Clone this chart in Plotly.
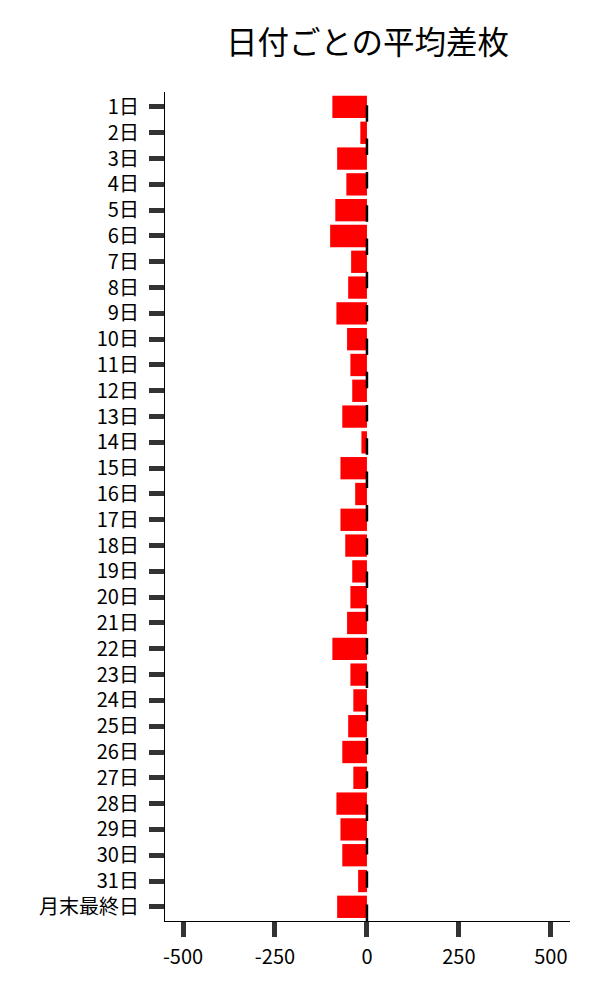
import plotly.graph_objects as go

categories = [f"{d}日" for d in range(1, 32)] + ["月末最終日"]
avg_diff = [-94, -18, -81, -56, -86, -100, -43, -51, -83, -54,
            -45, -40, -67, -15, -72, -32, -72, -59, -40, -45,
            -54, -94, -45, -37, -51, -67, -37, -83, -72, -67,
            -24, -81]
x_ticks = [-500, -250, 0, 250, 500]
x_tick_labels = ["-500", "-250", "0", "250", "500"]

FONT = "Noto Sans CJK JP"

fig = go.Figure()
fig.add_trace(go.Bar(
    x=avg_diff,
    y=categories,
    orientation="h",
    marker=dict(color="#ff0000", line=dict(width=0)),
    width=0.865,
    showlegend=False,
))

fig.add_shape(
    type="line", xref="x", yref="paper",
    x0=0, x1=0, y0=0, y1=1,
    line=dict(color="black", width=2.5, dash="16.5px,16.8px"),
    layer="above",
)

fig.update_layout(
    width=600, height=1000,
    margin=dict(l=157, r=38, t=84, b=87),
    paper_bgcolor="white",
    plot_bgcolor="white",
    font=dict(family=FONT, size=20, color="black"),
    title=dict(
        text="日付ごとの平均差枚",
        font=dict(family=FONT, size=31.5, color="black"),
        x=0.5, xref="paper", xanchor="center",
        y=0.965, yref="container", yanchor="middle",
    ),
    bargap=0.135,
)

fig.update_xaxes(
    range=[-549, 552],
    tickmode="array", tickvals=x_ticks, ticktext=x_tick_labels,
    ticks="outside", ticklen=15, tickwidth=5, tickcolor="#333333",
    showline=True, linecolor="black", linewidth=1.2,
    showgrid=False, zeroline=False, automargin=False,
    ticklabelstandoff=3,
    tickfont=dict(family=FONT, size=20, color="black"),
)
fig.update_yaxes(
    type="category",
    categoryorder="array", categoryarray=categories,
    range=[31.55, -0.58],
    ticks="outside", ticklen=15, tickwidth=5, tickcolor="#333333",
    showline=True, linecolor="black", linewidth=1.2,
    showgrid=False, zeroline=False, automargin=False,
    ticklabelstandoff=6,
    tickfont=dict(family=FONT, size=20, color="black"),
)

fig.write_html("out.html")
